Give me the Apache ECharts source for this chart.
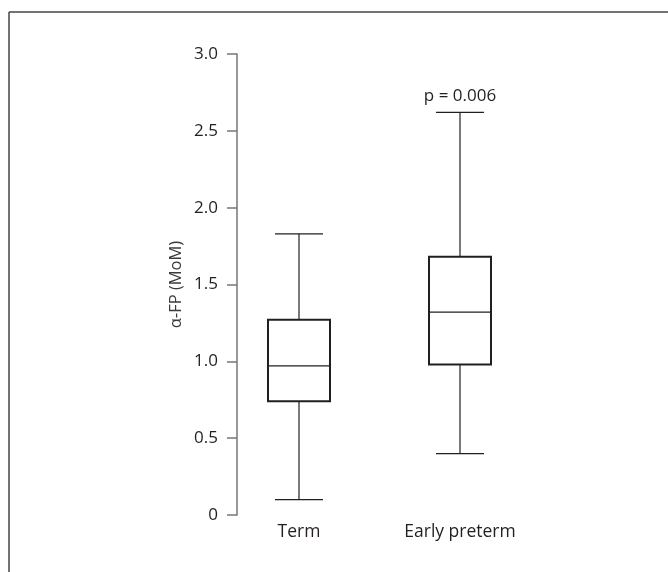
<!DOCTYPE html>
<html>
<head>
<meta charset="utf-8">
<script src="https://cdn.jsdelivr.net/npm/echarts@6/dist/echarts.min.js"></script>
<style>html,body{margin:0;padding:0;background:#fff}#c{width:668px;height:572px}</style>
</head>
<body>
<div id="c"></div>
<script>
// Data
var categories = ['Term', 'Early preterm'];
var mins    = [0.10, 0.40];
var q1s     = [0.74, 0.98];
var medians = [0.97, 1.32];
var q3s     = [1.27, 1.68];
var maxs    = [1.83, 2.62];
var annotations = ['', 'p = 0.006'];
var yTicks = [0, 0.5, 1.0, 1.5, 2.0, 2.5, 3.0];
var yAxisName = 'α-FP (MoM)';

var FONT = '"Open Sans", sans-serif';
var seriesData = categories.map(function (c, i) {
  return [i, mins[i], q1s[i], medians[i], q3s[i], maxs[i]];
});

var chart = echarts.init(document.getElementById('c'), null, {renderer: 'canvas'});
chart.setOption({
  backgroundColor: '#fff',
  animation: false,
  grid: {left: 218.5, width: 322, top: 54, bottom: 57},
  xAxis: {
    type: 'category',
    data: categories,
    axisLine: {show: false},
    axisTick: {show: false},
    axisLabel: {color: '#231f20', fontFamily: FONT, fontSize: 17.5, margin: 8}
  },
  yAxis: {
    type: 'value',
    min: 0, max: 3, interval: 0.5,
    offset: -18.5,
    name: yAxisName,
    nameLocation: 'middle',
    nameGap: 52,
    nameTextStyle: {color: '#3a3a3a', fontFamily: FONT, fontSize: 16.5},
    axisLine: {show: true, lineStyle: {color: '#777', width: 1.5}},
    axisTick: {show: true, length: 10, lineStyle: {color: '#777', width: 1.5}},
    splitLine: {show: false},
    axisLabel: {
      color: '#231f20', fontFamily: FONT, fontSize: 17, margin: 19,
      formatter: function (v) { return yTicks.indexOf(v) >= 0 ? (v === 0 ? '0' : v.toFixed(1)) : ''; }
    }
  },
  graphic: [
    {type: 'line', shape: {x1: 9, y1: 12, x2: 668, y2: 12}, style: {stroke: '#444', lineWidth: 1.5}},
    {type: 'line', shape: {x1: 9, y1: 12, x2: 9, y2: 572}, style: {stroke: '#444', lineWidth: 1.5}}
  ],
  series: [{
    type: 'custom',
    data: seriesData,
    renderItem: function (params, api) {
      var i = api.value(0);
      var pMin = api.coord([i, api.value(1)]);
      var pQ1 = api.coord([i, api.value(2)]);
      var pMed = api.coord([i, api.value(3)]);
      var pQ3 = api.coord([i, api.value(4)]);
      var pMax = api.coord([i, api.value(5)]);
      var cx = pMin[0];
      var bw = 62, cw = 48;
      var lineStyle = {stroke: '#231f20', lineWidth: 1.2};
      var children = [
        {type: 'line', shape: {x1: cx, y1: pMax[1], x2: cx, y2: pQ3[1]}, style: lineStyle},
        {type: 'line', shape: {x1: cx, y1: pQ1[1], x2: cx, y2: pMin[1]}, style: lineStyle},
        {type: 'line', shape: {x1: cx - cw / 2, y1: pMax[1], x2: cx + cw / 2, y2: pMax[1]}, style: lineStyle},
        {type: 'line', shape: {x1: cx - cw / 2, y1: pMin[1], x2: cx + cw / 2, y2: pMin[1]}, style: lineStyle},
        {type: 'rect', shape: {x: cx - bw / 2, y: pQ3[1], width: bw, height: pQ1[1] - pQ3[1]},
          style: {fill: '#fff', stroke: '#231f20', lineWidth: 2}},
        {type: 'line', shape: {x1: cx - bw / 2, y1: pMed[1], x2: cx + bw / 2, y2: pMed[1]}, style: lineStyle}
      ];
      var ann = annotations[params.dataIndex];
      if (ann) {
        children.push({type: 'text', style: {text: ann, x: cx, y: pMax[1] - 8, align: 'center', verticalAlign: 'bottom',
          fill: '#231f20', font: '17px ' + FONT}});
      }
      return {type: 'group', children: children};
    }
  }]
});
</script>
</body>
</html>
